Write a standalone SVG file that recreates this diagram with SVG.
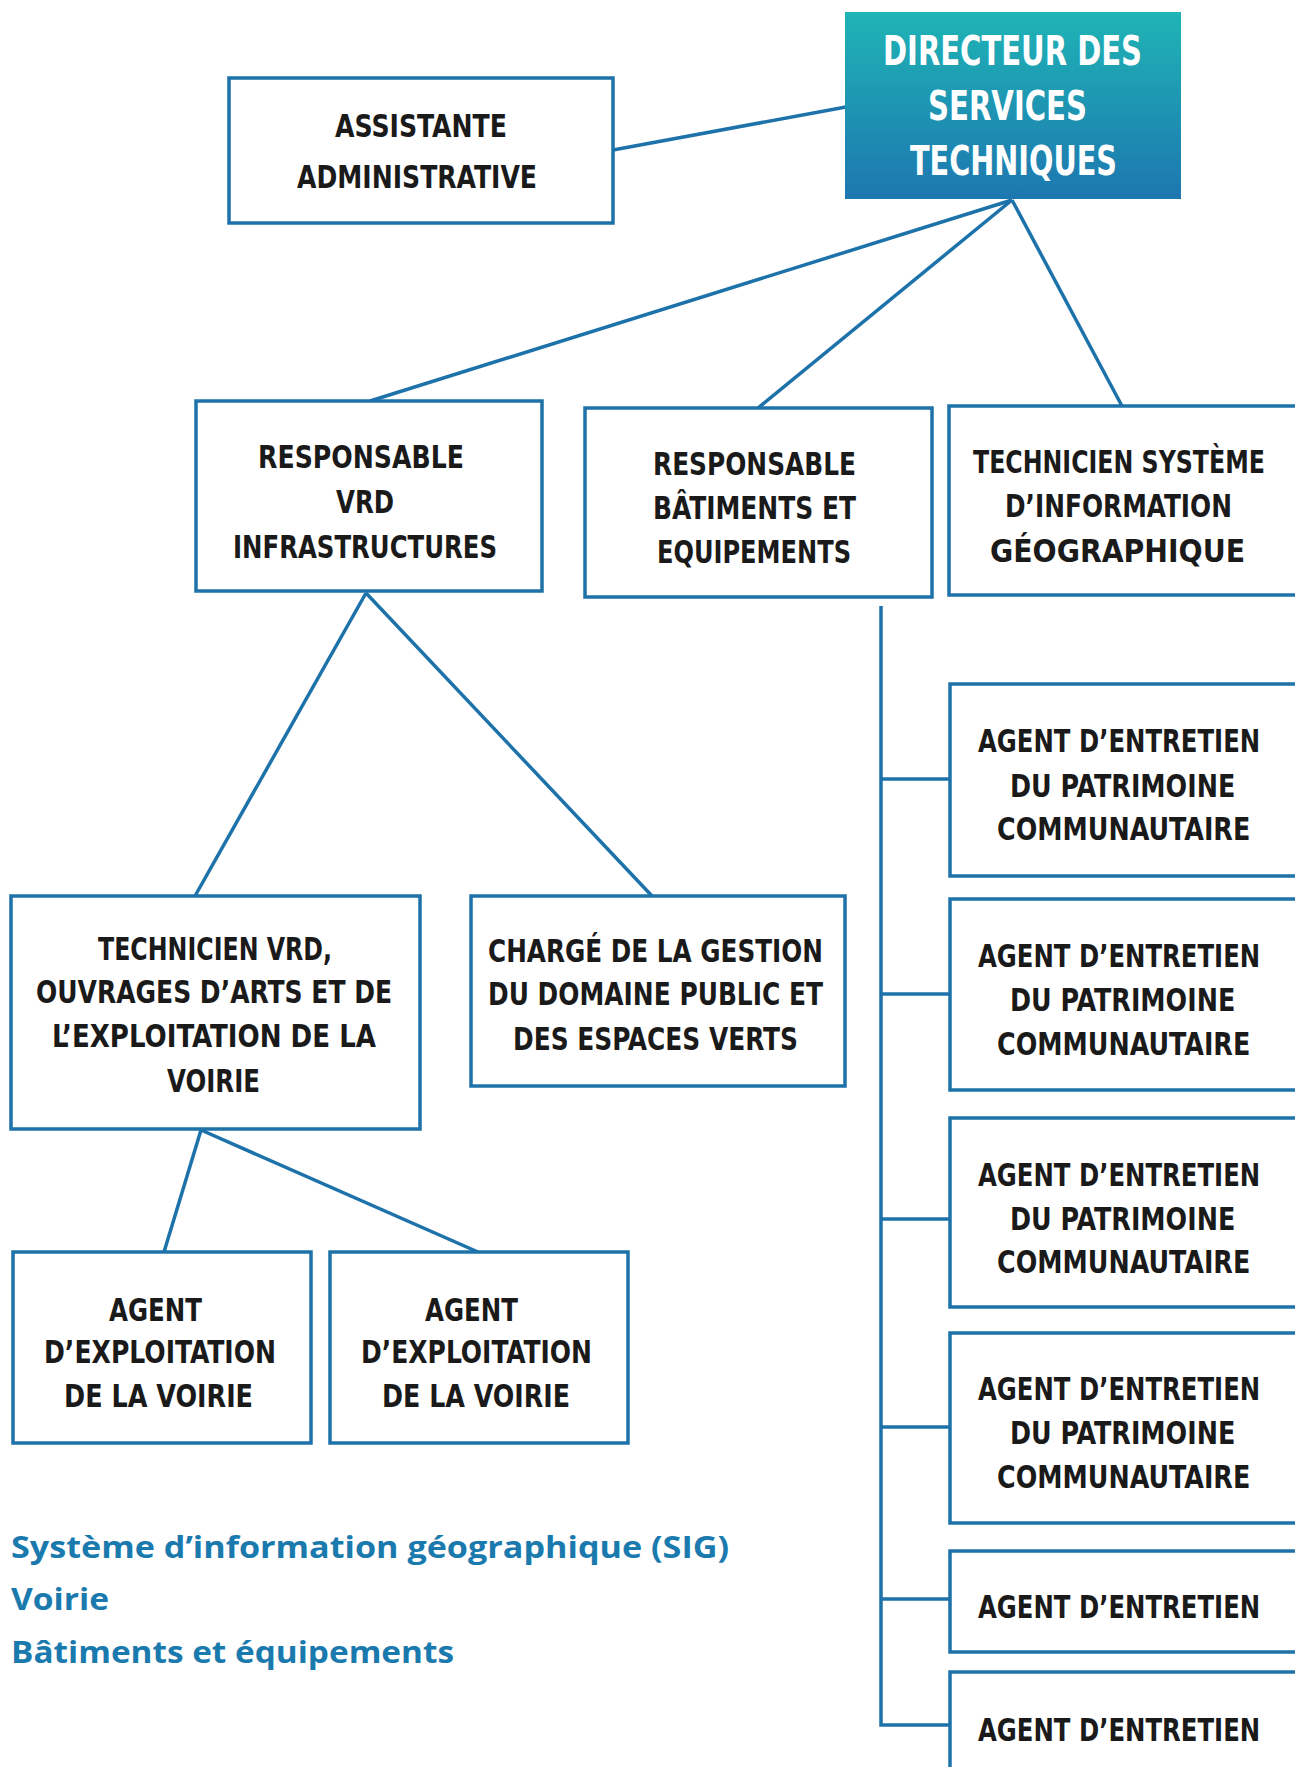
<svg xmlns="http://www.w3.org/2000/svg" width="1295" height="1767" viewBox="0 0 1295 1767">
<defs>
<linearGradient id="dirGrad" x1="0" y1="0" x2="0" y2="1">
<stop offset="0" stop-color="#1fb4b5"/>
<stop offset="1" stop-color="#1d77b0"/>
</linearGradient>
</defs>
<style>
.box{fill:#ffffff;stroke:#1d72aa;stroke-width:3.5}
.t{font-family:"DejaVu Sans Condensed","DejaVu Sans",sans-serif;font-weight:bold;font-size:32px;fill:#1a1a1a}
.tw{font-family:"DejaVu Sans Condensed","DejaVu Sans",sans-serif;font-weight:bold;font-size:41px;fill:#ffffff}
.lg{font-family:"Open Sans","Liberation Sans",sans-serif;font-weight:bold;font-size:31px;fill:#1a7aae}
.c{fill:none;stroke:#1d72aa;stroke-width:3.5}
</style>
<rect width="1295" height="1767" fill="#ffffff"/>
<g id="connectors">
<line class="c" x1="613" y1="150" x2="846" y2="107"/>
<line class="c" x1="1012" y1="200" x2="370" y2="401"/>
<line class="c" x1="1012" y1="200" x2="758" y2="408"/>
<line class="c" x1="1012" y1="200" x2="1122" y2="406"/>
<line class="c" x1="366" y1="593" x2="195" y2="896"/>
<line class="c" x1="366" y1="593" x2="652" y2="896"/>
<line class="c" x1="201" y1="1130" x2="164" y2="1252"/>
<line class="c" x1="201" y1="1130" x2="478" y2="1252"/>
<polyline class="c" points="881,606 881,1725 950,1725"/>
<line class="c" x1="881" y1="779" x2="950" y2="779"/>
<line class="c" x1="881" y1="994" x2="950" y2="994"/>
<line class="c" x1="881" y1="1219" x2="950" y2="1219"/>
<line class="c" x1="881" y1="1427" x2="950" y2="1427"/>
<line class="c" x1="881" y1="1599" x2="950" y2="1599"/>
</g>
<g id="assistante">
<rect class="box" x="229" y="78" width="384" height="145"/>
<text class="t" x="335" y="137" textLength="172" lengthAdjust="spacingAndGlyphs">ASSISTANTE</text>
<text class="t" x="297" y="188" textLength="240" lengthAdjust="spacingAndGlyphs">ADMINISTRATIVE</text>
</g>
<g id="directeur">
<rect x="845" y="12" width="336" height="187" fill="url(#dirGrad)"/>
<text class="tw" x="883" y="65" textLength="259" lengthAdjust="spacingAndGlyphs">DIRECTEUR DES</text>
<text class="tw" x="928" y="120" textLength="159" lengthAdjust="spacingAndGlyphs">SERVICES</text>
<text class="tw" x="910" y="175" textLength="207" lengthAdjust="spacingAndGlyphs">TECHNIQUES</text>
</g>
<g id="resp-vrd">
<rect class="box" x="196" y="401" width="346" height="190"/>
<text class="t" x="258" y="468" textLength="206" lengthAdjust="spacingAndGlyphs">RESPONSABLE</text>
<text class="t" x="336" y="513" textLength="58" lengthAdjust="spacingAndGlyphs">VRD</text>
<text class="t" x="233" y="558" textLength="264" lengthAdjust="spacingAndGlyphs">INFRASTRUCTURES</text>
</g>
<g id="resp-batiments">
<rect class="box" x="585" y="408" width="347" height="189"/>
<text class="t" x="653" y="475" textLength="203" lengthAdjust="spacingAndGlyphs">RESPONSABLE</text>
<text class="t" x="653" y="519" textLength="203" lengthAdjust="spacingAndGlyphs">BÂTIMENTS ET</text>
<text class="t" x="657" y="563" textLength="194" lengthAdjust="spacingAndGlyphs">EQUIPEMENTS</text>
</g>
<g id="technicien-sig">
<rect class="box" x="949" y="406" width="352" height="189"/>
<text class="t" transform="translate(973 473) scale(0.85 1)" textLength="343.5" lengthAdjust="spacingAndGlyphs">TECHNICIEN SYSTÈME</text>
<text class="t" transform="translate(1005 517) scale(0.85 1)" textLength="267" lengthAdjust="spacingAndGlyphs">D’INFORMATION</text>
<text class="t" transform="translate(990 562) scale(0.85 1)" textLength="300" lengthAdjust="spacingAndGlyphs">GÉOGRAPHIQUE</text>
</g>
<g id="technicien-vrd">
<rect class="box" x="11" y="896" width="409" height="233"/>
<text class="t" x="98" y="960" textLength="234" lengthAdjust="spacingAndGlyphs">TECHNICIEN VRD,</text>
<text class="t" x="36" y="1003" textLength="356" lengthAdjust="spacingAndGlyphs">OUVRAGES D’ARTS ET DE</text>
<text class="t" x="52" y="1047" textLength="324" lengthAdjust="spacingAndGlyphs">L’EXPLOITATION DE LA</text>
<text class="t" x="167" y="1092" textLength="93" lengthAdjust="spacingAndGlyphs">VOIRIE</text>
</g>
<g id="charge-gestion">
<rect class="box" x="471" y="896" width="374" height="190"/>
<text class="t" x="488" y="962" textLength="335" lengthAdjust="spacingAndGlyphs">CHARGÉ DE LA GESTION</text>
<text class="t" x="488" y="1005" textLength="335" lengthAdjust="spacingAndGlyphs">DU DOMAINE PUBLIC ET</text>
<text class="t" x="513" y="1050" textLength="285" lengthAdjust="spacingAndGlyphs">DES ESPACES VERTS</text>
</g>
<g id="agent-exploitation-1">
<rect class="box" x="13" y="1252" width="298" height="191"/>
<text class="t" x="109" y="1321" textLength="93" lengthAdjust="spacingAndGlyphs">AGENT</text>
<text class="t" x="44" y="1363" textLength="232" lengthAdjust="spacingAndGlyphs">D’EXPLOITATION</text>
<text class="t" x="64" y="1407" textLength="189" lengthAdjust="spacingAndGlyphs">DE LA VOIRIE</text>
</g>
<g id="agent-exploitation-2">
<rect class="box" x="330" y="1252" width="298" height="191"/>
<text class="t" x="425" y="1321" textLength="93" lengthAdjust="spacingAndGlyphs">AGENT</text>
<text class="t" x="361" y="1363" textLength="231" lengthAdjust="spacingAndGlyphs">D’EXPLOITATION</text>
<text class="t" x="382" y="1407" textLength="188" lengthAdjust="spacingAndGlyphs">DE LA VOIRIE</text>
</g>
<g id="agent-entretien-patrimoine-1">
<rect class="box" x="950" y="684" width="352" height="192"/>
<text class="t" transform="translate(978 752) scale(0.85 1)" textLength="332" lengthAdjust="spacingAndGlyphs">AGENT D’ENTRETIEN</text>
<text class="t" transform="translate(1010 797) scale(0.85 1)" textLength="265" lengthAdjust="spacingAndGlyphs">DU PATRIMOINE</text>
<text class="t" transform="translate(997 840) scale(0.85 1)" textLength="298" lengthAdjust="spacingAndGlyphs">COMMUNAUTAIRE</text>
</g>
<g id="agent-entretien-patrimoine-2">
<rect class="box" x="950" y="899" width="352" height="191"/>
<text class="t" transform="translate(978 967) scale(0.85 1)" textLength="332" lengthAdjust="spacingAndGlyphs">AGENT D’ENTRETIEN</text>
<text class="t" transform="translate(1010 1011) scale(0.85 1)" textLength="265" lengthAdjust="spacingAndGlyphs">DU PATRIMOINE</text>
<text class="t" transform="translate(997 1055) scale(0.85 1)" textLength="298" lengthAdjust="spacingAndGlyphs">COMMUNAUTAIRE</text>
</g>
<g id="agent-entretien-patrimoine-3">
<rect class="box" x="950" y="1118" width="352" height="189"/>
<text class="t" transform="translate(978 1186) scale(0.85 1)" textLength="332" lengthAdjust="spacingAndGlyphs">AGENT D’ENTRETIEN</text>
<text class="t" transform="translate(1010 1230) scale(0.85 1)" textLength="265" lengthAdjust="spacingAndGlyphs">DU PATRIMOINE</text>
<text class="t" transform="translate(997 1273) scale(0.85 1)" textLength="298" lengthAdjust="spacingAndGlyphs">COMMUNAUTAIRE</text>
</g>
<g id="agent-entretien-patrimoine-4">
<rect class="box" x="950" y="1333" width="352" height="190"/>
<text class="t" transform="translate(978 1400) scale(0.85 1)" textLength="332" lengthAdjust="spacingAndGlyphs">AGENT D’ENTRETIEN</text>
<text class="t" transform="translate(1010 1444) scale(0.85 1)" textLength="265" lengthAdjust="spacingAndGlyphs">DU PATRIMOINE</text>
<text class="t" transform="translate(997 1488) scale(0.85 1)" textLength="298" lengthAdjust="spacingAndGlyphs">COMMUNAUTAIRE</text>
</g>
<g id="agent-entretien-1">
<rect class="box" x="950" y="1551" width="352" height="101"/>
<text class="t" transform="translate(978 1618) scale(0.85 1)" textLength="332" lengthAdjust="spacingAndGlyphs">AGENT D’ENTRETIEN</text>
</g>
<g id="agent-entretien-2">
<rect class="box" x="950" y="1672" width="352" height="120"/>
<text class="t" transform="translate(978 1741) scale(0.85 1)" textLength="332" lengthAdjust="spacingAndGlyphs">AGENT D’ENTRETIEN</text>
</g>
<g id="legend">
<text class="lg" x="11" y="1558" textLength="718" lengthAdjust="spacingAndGlyphs">Système d’information géographique (SIG)</text>
<text class="lg" x="11" y="1610" textLength="98" lengthAdjust="spacingAndGlyphs">Voirie</text>
<text class="lg" x="11" y="1663" textLength="443" lengthAdjust="spacingAndGlyphs">Bâtiments et équipements</text>
</g>
</svg>
